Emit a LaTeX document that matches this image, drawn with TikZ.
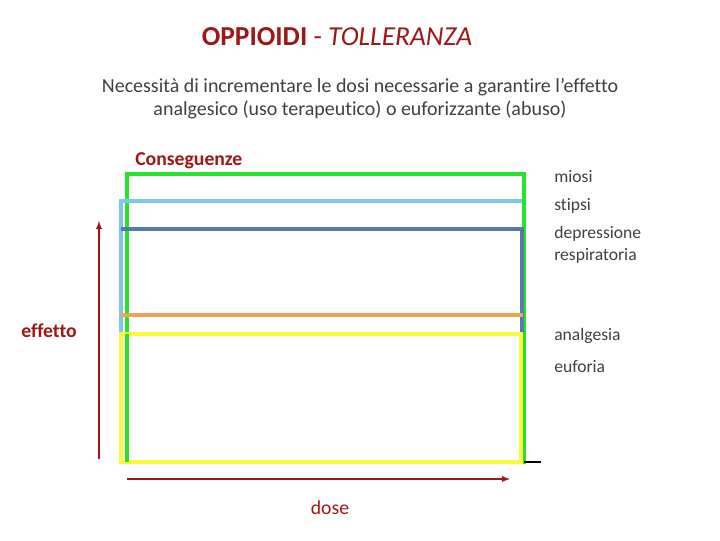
\documentclass[tikz,border=0pt]{standalone}
\usepackage{fontspec}
\setmainfont{Carlito}[Ligatures=NoCommon]
\usepackage{xcolor}
\definecolor{scuro}{RGB}{160,22,22}
\definecolor{grigio}{RGB}{64,64,64}
\definecolor{verde}{RGB}{40,228,40}
\definecolor{celeste}{RGB}{125,200,235}
\definecolor{blu}{RGB}{85,122,168}
\definecolor{arancio}{RGB}{235,165,85}
\definecolor{giallo}{RGB}{250,250,60}

\tikzset{
  effetti/.style={font=\fontsize{12.5}{15.5}\selectfont, text=grigio, anchor=west, inner sep=0pt, align=left},
  rosso/.style={font=\fontsize{14}{16}\selectfont\bfseries, text=scuro, inner sep=0pt},
  linea/.style={line width=2.2pt},
  asse/.style={draw=scuro, line width=1pt, -latex}
}

\begin{document}
\begin{tikzpicture}[x=0.025cm, y=-0.025cm]
\useasboundingbox (0,0) rectangle (720,540);

% titolo
\node (titolo) at (337,37) {\fontsize{19.5}{22}\selectfont\color{scuro}\textbf{OPPIOIDI} - \textit{TOLLERANZA}};
\node[align=center, text=grigio, font=\fontsize{14.2}{16.5}\selectfont] (testo) at (360,99)
  {Necessità di incrementare le dosi necessarie a garantire l’effetto\\analgesico (uso terapeutico) o euforizzante (abuso)};

\node[rosso, anchor=west] (conseguenze) at (135,161) {Conseguenze};

% rettangoli
\draw[linea, verde] (127,174) rectangle (524,462);
\draw[linea, celeste] (121,334) -- (121,201) -- (522,201);
\draw[linea, blu] (121,229) -- (522,229) -- (522,334);
\draw[linea, arancio] (121,315) -- (523,315);
\draw[linea, giallo] (121,334) rectangle (521,462);
\draw[linea, verde] (127,334) -- (127,462);
\draw[line width=2pt] (524,462) -- (541,462);

% etichette
\node[effetti] (miosi) at (554,177) {miosi};
\node[effetti] (stipsi) at (554,206) {stipsi};
\node[effetti] (depressione) at (554,245) {depressione\\respiratoria};
\node[effetti] (analgesia) at (554,336) {analgesia};
\node[effetti] (euforia) at (554,367) {euforia};

% assi
\coordinate (y0) at (99,459);
\coordinate (y1) at (99,221);
\coordinate (x0) at (127,479);
\coordinate (x1) at (510,479);
\draw[asse] (y0) -- (y1);
\draw[asse] (x0) -- (x1);
\node[rosso] (effetto) at (49,331) {effetto};
\node[rosso, font=\fontsize{14}{16}\selectfont] (dose) at (330,508) {dose};
\end{tikzpicture}
\end{document}
